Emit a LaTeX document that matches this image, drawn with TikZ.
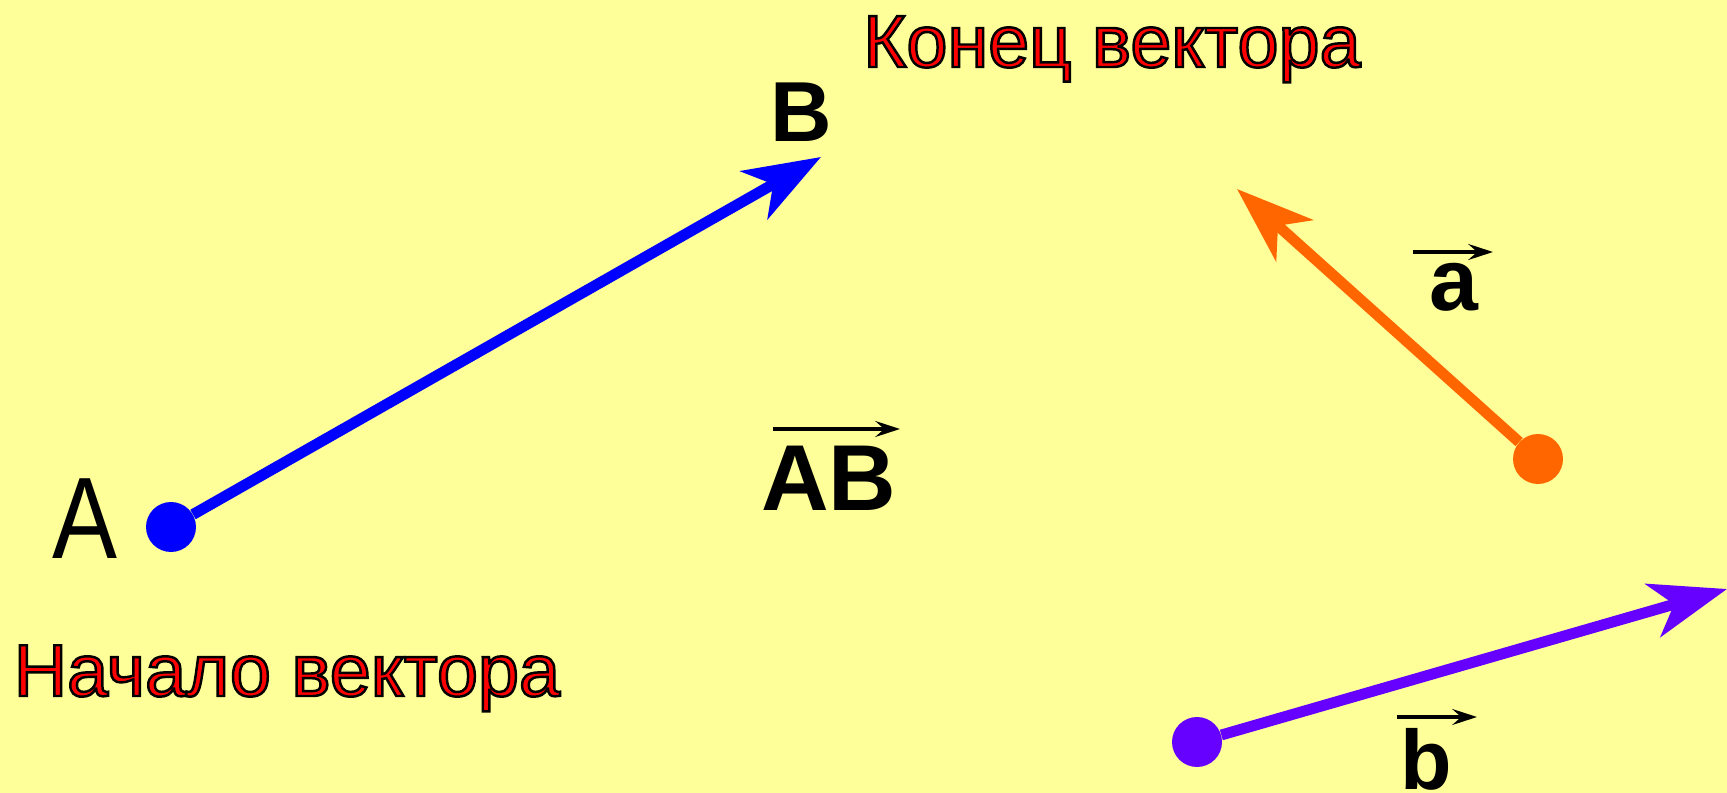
\documentclass[tikz,border=0pt]{standalone}
\usepackage{fontspec}
\setmainfont{Liberation Sans}
\usetikzlibrary{arrows.meta}
\definecolor{paper}{HTML}{FFFF99}
\definecolor{vecblue}{HTML}{0000FF}
\definecolor{vecorange}{HTML}{FF6600}
\definecolor{vecviolet}{HTML}{6600FF}
\newcommand{\redoutline}[1]{\special{pdf:code 0 0 0 RG 2 Tr 1.4 w}#1\special{pdf:code 0 Tr}}

\begin{document}
\begin{tikzpicture}[
        x=0.02cm, y=-0.02cm,
        vec/.style={line width=6.2pt, -{Stealth[length=43.8pt, width=31.3pt, inset=12.5pt]}},
        dot/.style={circle, fill=#1, minimum size=1cm, inner sep=0pt},
        pointlbl/.style={anchor=base, inner sep=0pt, text=black},
        veclbl/.style={anchor=base, inner sep=0pt, text=black, font=\fontsize{50}{50}\selectfont\bfseries},
        note/.style={anchor=base, inner sep=0pt, text=red, font=\fontsize{42}{42}\selectfont},
        overarrow/.style={line width=2.2pt, -{Stealth[length=14pt, width=9pt, inset=5pt]}}
    ]
        \fill[paper] (0,0) rectangle (1727,793);
        \useasboundingbox (0,0) rectangle (1727,793);

        % vector AB
        \node[dot=vecblue] (A) at (171,527) {};
        \coordinate (Btip) at (821,157);
        \draw[vec, vecblue] (A) -- (Btip);
        \node[pointlbl, font=\fontsize{66}{66}\selectfont] (Alabel) at (85,558) {\scalebox{0.84}[1]{A}};
        \node[pointlbl, font=\fontsize{48.5}{48.5}\selectfont\bfseries] (Blabel) at (801,142) {B};
        \node[veclbl, font=\fontsize{53.3}{53.3}\selectfont\bfseries] (ABlabel) at (829,510) {AB};
        \coordinate (ABbarL) at (773,429);
        \coordinate (ABbarR) at (900,429);
        \draw[overarrow] (ABbarL) -- (ABbarR);

        % vector a
        \node[dot=vecorange] (O) at (1538,459) {};
        \coordinate (atip) at (1237,189);
        \draw[vec, vecorange] (O) -- (atip);
        \node[veclbl] (alabel) at (1454,311) {a};
        \coordinate (abarL) at (1413,252);
        \coordinate (abarR) at (1493,252);
        \draw[overarrow] (abarL) -- (abarR);

        % vector b
        \node[dot=vecviolet] (P) at (1197,742) {};
        \coordinate (btip) at (1727,589);
        \draw[vec, vecviolet] (P) -- (btip);
        \node[veclbl, font=\fontsize{48}{48}\selectfont\bfseries] (blabel) at (1426,789) {b};
        \coordinate (bbarL) at (1397,717);
        \coordinate (bbarR) at (1477,717);
        \draw[overarrow] (bbarL) -- (bbarR);

        % captions
        \node[note] (endnote) at (1112,67) {\redoutline{Конец вектора}};
        \node[note] (startnote) at (287,696) {\redoutline{Начало вектора}};
    \end{tikzpicture}
\end{document}
